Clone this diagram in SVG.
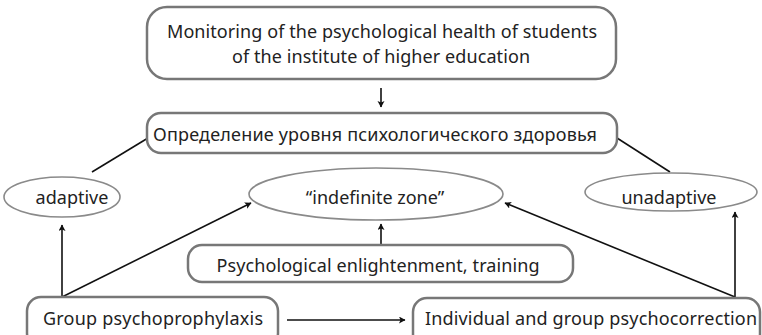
<svg xmlns="http://www.w3.org/2000/svg" width="762" height="335" viewBox="0 0 762 335">
<style>
.box{fill:#fff;stroke:#777;stroke-width:2.5}
.ell{fill:#fff;stroke:#8a8a8a;stroke-width:1.6}
.t{font-family:"Noto Sans","Open Sans","Liberation Sans",sans-serif;font-size:18px;fill:#222;text-anchor:middle}
.c{stroke:#111;stroke-width:1.6;fill:none}
</style>
<defs>
<marker id="ah" markerUnits="userSpaceOnUse" markerWidth="8" markerHeight="8" refX="6" refY="3.5" orient="auto">
<path d="M0,0 L6.5,3.5 L0,7 L1.5,3.5 z" fill="#111"/>
</marker>
</defs>
<rect width="762" height="335" fill="#fff"/>
<g id="connectors">
<line class="c" x1="381" y1="88" x2="381" y2="107" marker-end="url(#ah)"/>
<line class="c" x1="92" y1="172" x2="148" y2="138"/>
<line class="c" x1="617" y1="138" x2="670" y2="172"/>
<line class="c" x1="62" y1="297" x2="62" y2="225" marker-end="url(#ah)"/>
<line class="c" x1="62" y1="297" x2="251" y2="203" marker-end="url(#ah)"/>
<line class="c" x1="381" y1="245" x2="381" y2="224" marker-end="url(#ah)"/>
<line class="c" x1="287" y1="320" x2="405" y2="320" marker-end="url(#ah)"/>
<line class="c" x1="735" y1="297" x2="735" y2="212" marker-end="url(#ah)"/>
<line class="c" x1="735" y1="297" x2="505" y2="203" marker-end="url(#ah)"/>
</g>
<g id="monitoring">
<rect class="box" x="147" y="7" width="469" height="72" rx="20"/>
<text class="t" x="382" y="38" textLength="430" lengthAdjust="spacing">Monitoring of the psychological health of students</text>
<text class="t" x="381" y="63" textLength="298" lengthAdjust="spacing">of the institute of higher education</text>
</g>
<g id="definition">
<rect class="box" x="147" y="113" width="470" height="40" rx="14"/>
<text class="t" x="375" y="141" textLength="444" lengthAdjust="spacing">Определение уровня психологического здоровья</text>
</g>
<g id="adaptive">
<ellipse class="ell" cx="62" cy="197" rx="58" ry="20"/>
<text class="t" x="72" y="204">adaptive</text>
</g>
<g id="indefinite">
<ellipse class="ell" cx="376" cy="194" rx="127" ry="26"/>
<text class="t" x="375" y="204">“indefinite zone”</text>
</g>
<g id="unadaptive">
<ellipse class="ell" cx="671" cy="192" rx="86" ry="19"/>
<text class="t" x="669" y="204">unadaptive</text>
</g>
<g id="enlightenment">
<rect class="box" x="188" y="245" width="385" height="37" rx="14"/>
<text class="t" x="378" y="272" textLength="323" lengthAdjust="spacing">Psychological enlightenment, training</text>
</g>
<g id="prophylaxis">
<rect class="box" x="27" y="297" width="251" height="50" rx="14"/>
<text class="t" x="153" y="325" textLength="220" lengthAdjust="spacing">Group psychoprophylaxis</text>
</g>
<g id="correction">
<rect class="box" x="413" y="298" width="347" height="50" rx="14"/>
<text class="t" x="591" y="325" textLength="332" lengthAdjust="spacing">Individual and group psychocorrection</text>
</g>
</svg>
